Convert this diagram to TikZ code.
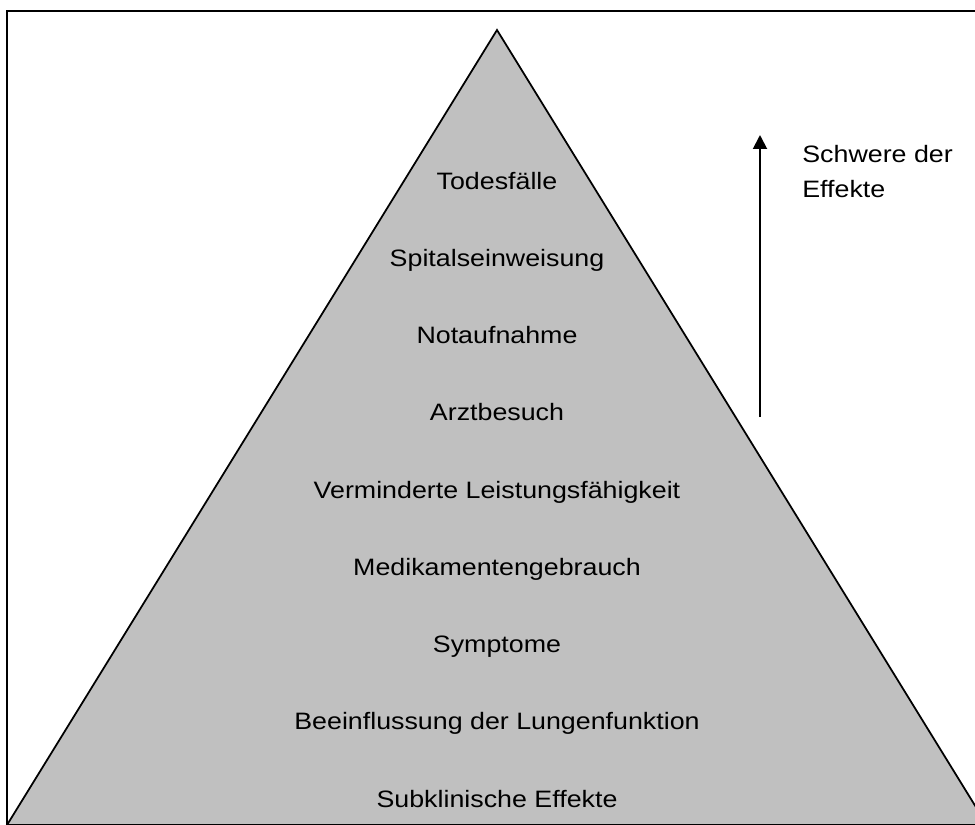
\documentclass[tikz,border=0pt]{standalone}
\usepackage{fontspec}
\setmainfont[FakeStretch=1.13]{Liberation Sans}
\usetikzlibrary{arrows.meta}

\definecolor{pyrgray}{RGB}{192,192,192}

\begin{document}
\begin{tikzpicture}[x=0.02cm,y=-0.02cm,>={Triangle[length=0.28cm,width=0.28cm]},
   font=\fontsize{13.5}{16}\selectfont,
   lvl/.style={anchor=base,inner sep=0pt}]
  \useasboundingbox (0,0) rectangle (975,825);
  \clip (0,0) rectangle (975,825);
  % frame
  \draw[line width=1.1pt] (985,11) -- (7,11) -- (7,835);
  % pyramid
  \draw[fill=pyrgray,line width=1pt,line join=miter] (497,30) -- (7,825) -- (987,825) -- cycle;
  \node[lvl] (tod) at (497,189)    {Todesfälle};
  \node[lvl] (spi) at (497,266.25) {Spitalseinweisung};
  \node[lvl] (not) at (497,343.5)  {Notaufnahme};
  \node[lvl] (arz) at (497,420.75) {Arztbesuch};
  \node[lvl] (ver) at (497,498)    {Verminderte Leistungsfähigkeit};
  \node[lvl] (med) at (497,575.25) {Medikamentengebrauch};
  \node[lvl] (sym) at (497,652.5)  {Symptome};
  \node[lvl] (bee) at (497,729.75) {Beeinflussung der Lungenfunktion};
  \node[lvl] (sub) at (497,807)    {Subklinische Effekte};
  % severity arrow
  \coordinate (lo) at (760,417);
  \coordinate (hi) at (760,135);
  \draw[->,line width=1.1pt] (lo) -- (hi);
  \node[anchor=base west,inner sep=0pt,align=left,font=\fontsize{13.5}{19.9}\selectfont] (sw) at (802,197) {Schwere der\\Effekte};
\end{tikzpicture}
\end{document}
